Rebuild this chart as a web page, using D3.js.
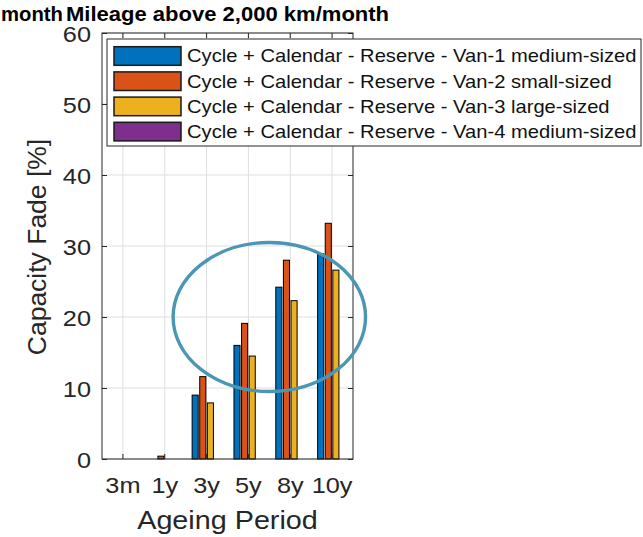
<!DOCTYPE html>
<html>
<head>
<meta charset="utf-8">
<script src="https://cdn.jsdelivr.net/npm/d3@7"></script>
<style>
  html, body { margin: 0; padding: 0; background: #fff; }
  svg { display: block; }
  text { font-family: "Liberation Sans", Arial, Helvetica, sans-serif; }
</style>
</head>
<body>
<svg id="chart" width="643" height="537"></svg>
<script>
// ---------------- data ----------------
const categories = ["3m", "1y", "3y", "5y", "8y", "10y"];
const seriesNames = [
  "Cycle + Calendar - Reserve - Van-1 medium-sized",
  "Cycle + Calendar - Reserve - Van-2 small-sized",
  "Cycle + Calendar - Reserve - Van-3 large-sized",
  "Cycle + Calendar - Reserve - Van-4 medium-sized"
];
const van1 = [0, 0, 9.0, 16.0, 24.2, 28.9];
const van2 = [0, 0.4, 11.6, 19.1, 28.0, 33.2];
const van3 = [0, 0, 7.9, 14.5, 22.3, 26.6];
const van4 = [0, 0, 0, 0, 0, 0];
const seriesColors = ["#0072BD", "#D95319", "#EDB120", "#7E2F8E"];
const yTicks = [0, 10, 20, 30, 40, 50, 60];
const titleText = "Mileage above 2,000 km/month";
const prevTitleTail = "month";
const xLabel = "Ageing Period";
const yLabel = "Capacity Fade [%]";
// annotation ellipse (category-index units, data units)
const ellipseCenter = [3.5, 20];
const ellipseRadii = [2.3, 10.5];

// ---------------- layout ----------------
const svg = d3.select("#chart");
const L = 102, R = 353, T = 33, B = 459;
const SX = 1.15;               // horizontal glyph stretch seen in the reference
const axisColor = "#262626";

const x = d3.scaleBand().domain(categories).range([L, R]).paddingInner(0).paddingOuter(0);
const xi = d3.scaleLinear().domain([-0.5, categories.length - 0.5]).range([L, R]);
const y = d3.scaleLinear().domain([0, 60]).range([B, T]);

const allSeries = [van1, van2, van3, van4];
const groupWidth = Math.min(0.8, allSeries.length / (allSeries.length + 1.5));
const xs = d3.scaleBand().domain(d3.range(allSeries.length))
  .range([-groupWidth / 2 * x.bandwidth(), groupWidth / 2 * x.bandwidth()]);
const barW = 0.8 * xs.bandwidth();

// grid
const grid = svg.append("g");
grid.selectAll("line.gy").data(yTicks).join("line")
  .attr("x1", L).attr("x2", R).attr("y1", d => y(d)).attr("y2", d => y(d))
  .attr("stroke", "#dedede").attr("stroke-width", 1);
grid.selectAll("line.gx").data(categories).join("line")
  .attr("y1", T).attr("y2", B)
  .attr("x1", d => x(d) + x.bandwidth() / 2).attr("x2", d => x(d) + x.bandwidth() / 2)
  .attr("stroke", "#dedede").attr("stroke-width", 1);

// bars
const bars = svg.append("g");
allSeries.forEach((vals, si) => {
  bars.selectAll(null).data(vals.map((v, i) => ({ c: categories[i], v })).filter(d => d.v > 0))
    .join("rect")
    .attr("x", d => x(d.c) + x.bandwidth() / 2 + xs(si) + (xs.bandwidth() - barW) / 2)
    .attr("width", barW)
    .attr("y", d => y(d.v))
    .attr("height", d => y(0) - y(d.v))
    .attr("fill", seriesColors[si])
    .attr("stroke", "#000").attr("stroke-width", 1);
});

// axes (inward ticks on all four sides)
const fs = 22;
const gL = svg.append("g").attr("transform", `translate(${L},0)`)
  .call(d3.axisLeft(y).tickValues(yTicks).tickSize(-5).tickSizeOuter(0).tickPadding(11));
const gB = svg.append("g").attr("transform", `translate(0,${B})`)
  .call(d3.axisBottom(x).tickSize(-5).tickSizeOuter(0).tickPadding(14));
const gT = svg.append("g").attr("transform", `translate(0,${T})`)
  .call(d3.axisTop(x).tickSize(-5).tickSizeOuter(0).tickFormat(""));
const gR = svg.append("g").attr("transform", `translate(${R},0)`)
  .call(d3.axisRight(y).tickValues(yTicks).tickSize(-5).tickSizeOuter(0).tickFormat(""));
[gL, gB, gT, gR].forEach(g => {
  g.select(".domain").remove();
  g.selectAll(".tick line").attr("stroke", axisColor);
});
gL.selectAll(".tick text")
  .attr("x", 0).attr("dy", "0.37em")
  .attr("transform", `translate(-11,0) scale(${SX},1)`)
  .attr("font-size", fs).attr("fill", axisColor);
gB.selectAll(".tick text")
  .attr("y", 0).attr("dy", 0)
  .attr("transform", `translate(0,34) scale(${SX},1)`)
  .attr("font-size", fs).attr("fill", axisColor);
gL.attr("font-family", null); gB.attr("font-family", null);

svg.append("rect").attr("x", L).attr("y", T).attr("width", R - L).attr("height", B - T)
  .attr("fill", "none").attr("stroke", axisColor).attr("stroke-width", 1);

// axis labels
svg.append("text").text(xLabel)
  .attr("text-anchor", "middle")
  .attr("transform", `translate(${(L + R) / 2},529) scale(${SX},1)`)
  .attr("font-size", 25).attr("fill", axisColor);
svg.append("text").text(yLabel)
  .attr("text-anchor", "middle")
  .attr("transform", `translate(46,${(T + B) / 2 + 1}) scale(0.95,1) rotate(-90)`)
  .attr("font-size", 26.5).attr("fill", axisColor);

// titles
svg.append("text").text(titleText)
  .attr("text-anchor", "middle").attr("font-weight", "bold")
  .attr("transform", `translate(${(L + R) / 2},21) scale(1.13,1)`)
  .attr("font-size", 19.5).attr("fill", "#000");
svg.append("text").text(prevTitleTail)
  .attr("text-anchor", "end").attr("font-weight", "bold")
  .attr("transform", `translate(63,21) scale(1.04,1)`)
  .attr("font-size", 19.5).attr("fill", "#000");

// legend
const lg = svg.append("g");
const lgX = 107, lgY = 39, lgW = 534, lgH = 107, rowH = 25.2;
lg.append("rect").attr("x", lgX).attr("y", lgY).attr("width", lgW).attr("height", lgH)
  .attr("fill", "#fff").attr("stroke", axisColor).attr("stroke-width", 1);
seriesNames.forEach((name, i) => {
  const cy = 56 + i * rowH;
  lg.append("rect").attr("x", 114).attr("y", cy - 9.3).attr("width", 67).attr("height", 18.6)
    .attr("fill", seriesColors[i]).attr("stroke", "#1a1a1a").attr("stroke-width", 1.5);
  lg.append("text").text(name)
    .attr("transform", `translate(187,${cy + 6.3}) scale(1.12,1)`)
    .attr("font-size", 18).attr("fill", "#111");
});

// annotation ellipse
svg.append("ellipse")
  .attr("cx", xi(ellipseCenter[0])).attr("cy", y(ellipseCenter[1]))
  .attr("rx", xi(ellipseRadii[0]) - xi(0)).attr("ry", y(0) - y(ellipseRadii[1]))
  .attr("fill", "none").attr("stroke", "#4a96b4").attr("stroke-width", 3.4);
</script>
</body>
</html>
